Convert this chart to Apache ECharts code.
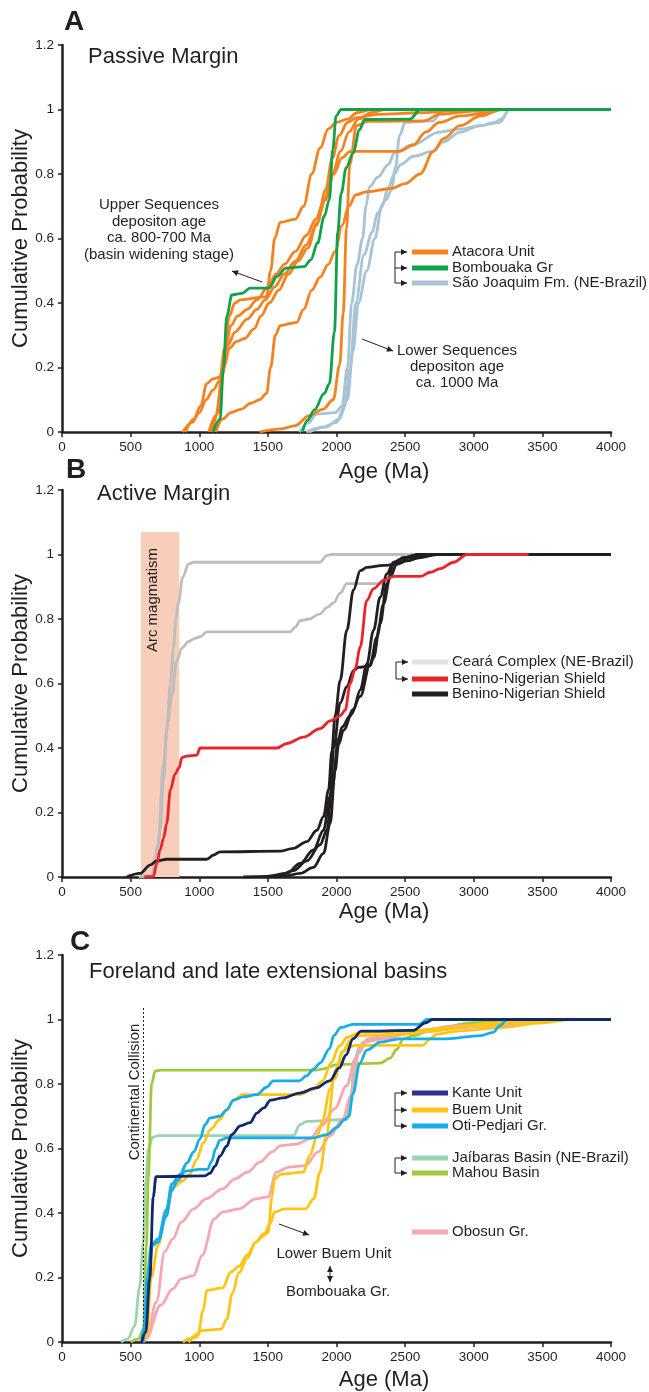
<!DOCTYPE html>
<html>
<head>
<meta charset="utf-8">
<script src="https://cdn.jsdelivr.net/npm/echarts@6/dist/echarts.min.js"></script>
<style>
  html, body { margin: 0; padding: 0; background: #fff; }
  #main { width: 649px; height: 1392px; }
</style>
</head>
<body>
<div id="main"></div>
<script>
// ---- data: [age (Ma), cumulative probability] ----
// A - Passive Margin
var atacora1 = [[880,0],[950,0.03],[1010,0.08],[1055,0.15],[1100,0.165],[1150,0.17],[1185,0.26],[1220,0.36],[1260,0.4],[1300,0.41],[1490,0.42],[1520,0.5],[1550,0.6],[1590,0.65],[1700,0.66],[1760,0.7],[1820,0.8],[1880,0.88],[1940,0.94],[2000,0.96],[2080,0.97],[2150,0.99],[2250,1],[4000,1]];
var atacora2 = [[900,0],[960,0.04],[1000,0.06],[1050,0.1],[1100,0.13],[1150,0.16],[1190,0.25],[1230,0.33],[1280,0.36],[1350,0.38],[1420,0.41],[1500,0.45],[1560,0.49],[1620,0.52],[1700,0.56],[1780,0.61],[1850,0.66],[1910,0.72],[1970,0.8],[2030,0.87],[2090,0.93],[2160,0.97],[2250,0.99],[2350,1],[4000,1]];
var atacora3 = [[1070,0],[1120,0.05],[1170,0.18],[1210,0.27],[1260,0.31],[1350,0.35],[1420,0.38],[1480,0.41],[1550,0.45],[1620,0.49],[1700,0.53],[1780,0.58],[1850,0.64],[1920,0.72],[1980,0.8],[2040,0.85],[2100,0.87],[2460,0.87],[2560,0.89],[2650,0.93],[2750,0.96],[2900,0.98],[3100,0.99],[3200,1],[4000,1]];
var atacora4 = [[1090,0],[1140,0.06],[1180,0.2],[1220,0.26],[1270,0.28],[1330,0.29],[1400,0.32],[1450,0.36],[1510,0.4],[1580,0.44],[1650,0.49],[1720,0.53],[1790,0.57],[1860,0.65],[1920,0.75],[1970,0.85],[2020,0.92],[2080,0.96],[2150,0.975],[2300,0.985],[2600,0.99],[3000,1],[4000,1]];
var atacora5 = [[1120,0],[1170,0.04],[1230,0.06],[1300,0.07],[1380,0.09],[1440,0.1],[1490,0.12],[1520,0.2],[1555,0.3],[1590,0.33],[1710,0.34],[1760,0.38],[1820,0.44],[1880,0.48],[1940,0.52],[1990,0.56],[2040,0.64],[2090,0.7],[2140,0.735],[2220,0.745],[2400,0.755],[2500,0.77],[2610,0.8],[2706,0.87],[2780,0.91],[2900,0.95],[3050,0.98],[3200,1],[4000,1]];
var atacora6 = [[1440,0],[1600,0.01],[1700,0.02],[1800,0.05],[1900,0.07],[1976,0.1],[2024,0.21],[2049,0.37],[2073,0.63],[2097,0.83],[2146,0.95],[2230,0.963],[2640,0.965],[2750,0.985],[3000,0.995],[3200,1],[4000,1]];
var bombouaka1 = [[1100,0],[1152,0.04],[1176,0.2],[1201,0.36],[1238,0.425],[1311,0.43],[1372,0.446],[1507,0.446],[1568,0.483],[1630,0.508],[1764,0.513],[1813,0.534],[1862,0.586],[1911,0.669],[1948,0.72],[1973,0.876],[1997,0.98],[2034,1],[4000,1]];
var bombouaka2 = [[1752,0],[1789,0.037],[1838,0.068],[1911,0.12],[1948,0.15],[1985,0.31],[2009,0.62],[2034,0.74],[2071,0.82],[2120,0.865],[2169,0.938],[2205,0.969],[2535,0.97],[2610,1],[4000,1]];
var saoJoaquim1 = [[1730,0],[1800,0.03],[1850,0.055],[1990,0.06],[2040,0.08],[2080,0.2],[2110,0.4],[2150,0.52],[2190,0.6],[2215,0.7],[2240,0.76],[2300,0.79],[2380,0.83],[2420,0.865],[2550,0.89],[2750,0.93],[2900,0.94],[3050,0.95],[3190,0.96],[3260,1],[4000,1]];
var saoJoaquim2 = [[1780,0],[1900,0.015],[2000,0.03],[2060,0.08],[2100,0.2],[2140,0.4],[2200,0.55],[2260,0.62],[2300,0.68],[2360,0.72],[2400,0.75],[2430,0.82],[2460,0.92],[2500,0.96],[2700,0.965],[2780,1],[4000,1]];
var saoJoaquim3 = [[1800,0],[1920,0.015],[2020,0.04],[2080,0.1],[2120,0.25],[2160,0.4],[2220,0.5],[2280,0.6],[2330,0.7],[2380,0.76],[2420,0.8],[2470,0.83],[2560,0.855],[2700,0.87],[2780,0.9],[2900,0.93],[3050,0.95],[3150,0.96],[3200,0.97],[3260,1],[4000,1]];

// B - Active Margin
var arcRange = [575, 855];
var ceara1 = [[560,0],[654,0.005],[690,0.05],[715,0.145],[740,0.3],[763,0.455],[790,0.6],[812,0.71],[830,0.8],[848,0.85],[880,0.93],[921,0.97],[958,0.976],[1880,0.976],[1930,0.997],[1960,1],[4000,1]];
var ceara2 = [[560,0],[654,0.005],[700,0.1],[739,0.35],[770,0.48],[800,0.56],[836,0.67],[873,0.71],[921,0.73],[970,0.74],[1006,0.745],[1055,0.76],[1662,0.76],[1700,0.775],[1735,0.795],[1800,0.8],[1880,0.816],[1930,0.835],[1978,0.85],[2027,0.88],[2075,0.91],[2330,0.91],[2400,0.95],[2450,0.98],[2500,1],[4000,1]];
var beninoRed = [[600,0],[666,0.002],[690,0.04],[715,0.084],[740,0.12],[763,0.166],[790,0.27],[824,0.32],[855,0.34],[873,0.37],[909,0.375],[982,0.378],[1006,0.4],[1565,0.4],[1638,0.414],[1760,0.434],[1880,0.46],[1954,0.484],[2027,0.5],[2063,0.517],[2100,0.6],[2136,0.646],[2173,0.713],[2221,0.858],[2270,0.894],[2343,0.92],[2416,0.932],[2610,0.932],[2683,0.945],[2756,0.956],[2853,0.976],[2950,1],[3400,1]];
var benino1 = [[471,0],[568,0.011],[642,0.037],[690,0.05],[763,0.055],[1055,0.055],[1103,0.068],[1152,0.078],[1589,0.08],[1686,0.089],[1784,0.11],[1857,0.145],[1905,0.187],[1942,0.27],[1966,0.39],[1990,0.5],[2027,0.61],[2075,0.765],[2124,0.89],[2173,0.95],[2221,0.96],[2343,0.966],[2440,0.97],[2513,0.98],[2600,0.99],[2731,1],[4000,1]];
var benino2 = [[1320,0],[1492,0.002],[1638,0.011],[1735,0.042],[1832,0.084],[1905,0.145],[1954,0.25],[1980,0.4],[2027,0.54],[2075,0.59],[2124,0.64],[2160,0.65],[2245,0.655],[2270,0.68],[2318,0.785],[2367,0.91],[2416,0.97],[2489,0.99],[2600,1],[4000,1]];
var benino3 = [[1500,0],[1565,0.002],[1686,0.02],[1784,0.05],[1880,0.1],[1930,0.145],[1966,0.27],[2015,0.43],[2040,0.465],[2100,0.5],[2173,0.56],[2245,0.66],[2294,0.744],[2343,0.847],[2391,0.93],[2440,0.97],[2530,0.99],[2650,1],[4000,1]];
var benino4 = [[1550,0],[1614,0.002],[1735,0.011],[1832,0.03],[1905,0.073],[1954,0.166],[1990,0.33],[2015,0.41],[2051,0.455],[2124,0.52],[2173,0.58],[2221,0.66],[2270,0.765],[2318,0.868],[2367,0.94],[2416,0.976],[2490,0.99],[2600,1],[4000,1]];

// C - Foreland and late extensional basins
var collisionAge = 590;
var jaibaras = [[430,0],[480,0.01],[530,0.05],[565,0.17],[593,0.31],[610,0.5],[630,0.6],[660,0.635],[700,0.64],[1686,0.64],[1734,0.674],[1783,0.684],[2074,0.69],[2100,0.75],[2135,0.88],[2170,0.92],[2250,0.94],[2400,0.95],[2600,0.96],[3000,0.98],[3300,1],[4000,1]];
var mahou = [[500,0],[560,0.01],[593,0.04],[615,0.3],[629,0.51],[653,0.8],[678,0.84],[720,0.843],[1850,0.843],[1904,0.847],[2000,0.86],[2320,0.865],[2390,0.88],[2438,0.907],[2487,0.94],[2560,0.95],[2700,0.97],[3000,0.99],[3300,1],[4000,1]];
var obosun1 = [[590,0],[612,0.01],[688,0.124],[748,0.28],[808,0.32],[869,0.372],[959,0.413],[1050,0.444],[1170,0.475],[1261,0.506],[1351,0.527],[1442,0.558],[1532,0.59],[1593,0.609],[1713,0.614],[1804,0.63],[1894,0.671],[1985,0.723],[2075,0.795],[2136,0.878],[2196,0.93],[2347,0.94],[2558,0.96],[2860,0.98],[3161,0.985],[3644,1],[4000,1]];
var obosun2 = [[590,0],[612,0.01],[718,0.114],[808,0.165],[869,0.196],[959,0.206],[1020,0.268],[1110,0.382],[1170,0.403],[1291,0.413],[1412,0.444],[1502,0.45],[1562,0.527],[1653,0.542],[1774,0.547],[1864,0.589],[1955,0.64],[2045,0.692],[2106,0.764],[2166,0.898],[2226,0.94],[2408,0.955],[2709,0.97],[3161,0.98],[3614,1],[4000,1]];
var buem1 = [[590,0],[617,0.02],[650,0.2],[700,0.3],[760,0.4],[810,0.48],[880,0.5],[930,0.52],[980,0.565],[1030,0.617],[1080,0.658],[1150,0.69],[1200,0.72],[1250,0.75],[1320,0.767],[1730,0.767],[1830,0.783],[1900,0.81],[1960,0.865],[2020,0.917],[2080,0.945],[2170,0.96],[2600,0.965],[2800,0.975],[3200,0.99],[3600,1],[4000,1]];
var buem2 = [[880,0],[930,0.01],[990,0.025],[1030,0.1],[1055,0.16],[1170,0.168],[1231,0.217],[1291,0.235],[1350,0.27],[1412,0.31],[1470,0.33],[1502,0.34],[1530,0.45],[1548,0.506],[1593,0.52],[1759,0.527],[1804,0.578],[1860,0.64],[1894,0.68],[1955,0.785],[2000,0.85],[2045,0.9],[2100,0.935],[2150,0.95],[2500,0.955],[2700,0.965],[3000,0.98],[3400,0.995],[3600,1],[4000,1]];
var buem3 = [[920,0],[980,0.015],[1010,0.035],[1160,0.04],[1200,0.07],[1240,0.15],[1290,0.215],[1350,0.26],[1412,0.31],[1472,0.336],[1520,0.37],[1548,0.403],[1623,0.413],[1774,0.413],[1834,0.444],[1880,0.527],[1925,0.64],[1985,0.816],[2045,0.9],[2100,0.915],[2136,0.92],[2630,0.92],[2680,0.94],[2730,0.955],[2900,0.965],[3200,0.975],[3500,0.99],[3700,1],[4000,1]];
var otiPedjari1 = [[580,0],[600,0.05],[620,0.2],[650,0.3],[700,0.32],[760,0.41],[800,0.49],[860,0.52],[910,0.555],[960,0.59],[1006,0.63],[1042,0.674],[1080,0.695],[1150,0.7],[1200,0.72],[1250,0.75],[1320,0.76],[1420,0.767],[1490,0.79],[1540,0.81],[1730,0.81],[1780,0.825],[1830,0.845],[1880,0.865],[1950,0.91],[1980,0.95],[2030,0.975],[2120,0.985],[2600,0.985],[2660,1],[4000,1]];
var otiPedjari2 = [[590,0],[610,0.05],[630,0.2],[660,0.3],[700,0.31],[760,0.39],[800,0.47],[840,0.5],[900,0.53],[1000,0.535],[1060,0.535],[1090,0.56],[1120,0.6],[1150,0.625],[1200,0.633],[1830,0.633],[1930,0.643],[2000,0.665],[2060,0.69],[2090,0.7],[2120,0.77],[2170,0.865],[2220,0.905],[2320,0.93],[2460,0.94],[2800,0.94],[3050,0.95],[3140,0.96],[3190,0.98],[3240,1],[4000,1]];
var kante = [[580,0],[610,0.03],[640,0.2],[665,0.45],[685,0.513],[1040,0.515],[1080,0.524],[1115,0.545],[1150,0.576],[1200,0.607],[1236,0.643],[1300,0.67],[1370,0.68],[1420,0.71],[1470,0.726],[1520,0.75],[1610,0.757],[1730,0.772],[1850,0.788],[1950,0.81],[2020,0.85],[2070,0.89],[2120,0.94],[2180,0.964],[2560,0.966],[2650,0.99],[2700,1],[4000,1]];

var xTicks = { min: 0, max: 4000, interval: 500 };
var yTicks = { min: 0, max: 1.2, interval: 0.2 };

// ---- styling ----
var INK = '#231f20';
var FONT = '"Liberation Sans", Arial, Helvetica, sans-serif';
var cAtacora = '#f5821f', cBomb = '#0ea24a', cSao = '#a7c3d6';
var cCeara = '#bdbdbd', cCearaKey = '#e2e2e2', cRed = '#e8252b', cBlack = '#231f20';
var cKante = '#0f2a68', cKanteKey = '#2e3192', cBuem = '#ffc516', cOti = '#17ade8';
var cJai = '#9cd4af', cMahou = '#9fca3d', cObosun = '#f5a8b0';

var gridTops = [45, 490, 955];

function line(name, data, color, panel, z) {
  return {
    name: name, type: 'line', data: data, xAxisIndex: panel, yAxisIndex: panel,
    showSymbol: false, symbol: 'none', smooth: 0.35, smoothMonotone: 'x',
    lineStyle: { color: color, width: 2.8 }, z: z || 3, silent: true
  };
}

var series = [
  line('São Joaquim Fm. (NE-Brazil)', saoJoaquim1, cSao, 0),
  line('São Joaquim Fm. (NE-Brazil)', saoJoaquim2, cSao, 0),
  line('São Joaquim Fm. (NE-Brazil)', saoJoaquim3, cSao, 0),
  line('Atacora Unit', atacora1, cAtacora, 0, 4),
  line('Atacora Unit', atacora2, cAtacora, 0, 4),
  line('Atacora Unit', atacora3, cAtacora, 0, 4),
  line('Atacora Unit', atacora4, cAtacora, 0, 4),
  line('Atacora Unit', atacora5, cAtacora, 0, 4),
  line('Atacora Unit', atacora6, cAtacora, 0, 4),
  line('Bombouaka Gr', bombouaka1, cBomb, 0, 5),
  line('Bombouaka Gr', bombouaka2, cBomb, 0, 5),
  {
    type: 'line', data: [], xAxisIndex: 1, yAxisIndex: 1, z: 1, silent: true,
    markArea: {
      silent: true, label: { show: false },
      itemStyle: { color: '#f8cdb9' },
      data: [[{ coord: [arcRange[0], 0] }, { coord: [arcRange[1], 1.07] }]]
    }
  },
  line('Ceará Complex (NE-Brazil)', ceara1, cCeara, 1),
  line('Ceará Complex (NE-Brazil)', ceara2, cCeara, 1),
  line('Benino-Nigerian Shield', benino1, cBlack, 1, 4),
  line('Benino-Nigerian Shield', benino2, cBlack, 1, 4),
  line('Benino-Nigerian Shield', benino3, cBlack, 1, 4),
  line('Benino-Nigerian Shield', benino4, cBlack, 1, 4),
  line('Benino-Nigerian Shield (red)', beninoRed, cRed, 1, 5),
  {
    type: 'line', data: [], xAxisIndex: 2, yAxisIndex: 2, z: 2, silent: true,
    markLine: {
      silent: true, symbol: ['none', 'none'], label: { show: false },
      lineStyle: { color: INK, width: 1, type: [2, 2] },
      data: [[{ coord: [collisionAge, 0] }, { coord: [collisionAge, 1.04] }]]
    }
  },
  line('Jaíbaras Basin (NE-Brazil)', jaibaras, cJai, 2),
  line('Mahou Basin', mahou, cMahou, 2),
  line('Obosun Gr.', obosun1, cObosun, 2, 4),
  line('Obosun Gr.', obosun2, cObosun, 2, 4),
  line('Buem Unit', buem1, cBuem, 2, 5),
  line('Buem Unit', buem2, cBuem, 2, 5),
  line('Buem Unit', buem3, cBuem, 2, 5),
  line('Oti-Pedjari Gr.', otiPedjari1, cOti, 2, 6),
  line('Oti-Pedjari Gr.', otiPedjari2, cOti, 2, 6),
  line('Kante Unit', kante, cKante, 2, 7)
];

// ---- axes ----
var grids = [], xAxes = [], yAxes = [];
gridTops.forEach(function (top, i) {
  grids.push({ left: 62, top: top, width: 549, height: 387, containLabel: false, outerBoundsMode: 'none' });
  xAxes.push({
    type: 'value', gridIndex: i, min: xTicks.min, max: xTicks.max, interval: xTicks.interval,
    axisLine: { show: true, onZero: false, lineStyle: { color: INK, width: 2.5 } },
    axisTick: { show: true, length: 5, lineStyle: { color: INK, width: 1.5 } },
    axisLabel: { fontSize: 13.5, color: INK, fontFamily: FONT, margin: 8, formatter: function (v) { return String(v); } },
    splitLine: { show: false }
  });
  yAxes.push({
    type: 'value', gridIndex: i, min: yTicks.min, max: yTicks.max, interval: yTicks.interval,
    name: 'Cumulative Probability', nameLocation: 'middle', nameGap: 30, nameMoveOverlap: false,
    nameTextStyle: { fontSize: 22, color: INK, fontFamily: FONT },
    axisLine: { show: true, lineStyle: { color: INK, width: 2.5 } },
    axisTick: { show: true, length: 4, lineStyle: { color: INK, width: 1.5 } },
    axisLabel: { fontSize: 13.5, color: INK, fontFamily: FONT, margin: 8 },
    splitLine: { show: false }
  });
});

// ---- annotation helpers (pixels) ----
function text(x, y, s, size, o) {
  o = o || {};
  return {
    type: 'text', x: x, y: y, rotation: o.rot || 0, z: 10,
    style: {
      text: s, fontSize: size, fontFamily: FONT, fontWeight: o.bold ? 'bold' : 'normal',
      fill: INK, align: o.align || 'left', verticalAlign: 'middle',
      textAlign: o.align || 'left', textVerticalAlign: 'middle',
      lineHeight: o.lh || Math.round(size * 1.15)
    }
  };
}
function seg(x1, y1, x2, y2, color, w) {
  return { type: 'line', z: 10, shape: { x1: x1, y1: y1, x2: x2, y2: y2 }, style: { stroke: color || INK, lineWidth: w || 1 } };
}
function head(x1, y1, x2, y2) {
  var a = Math.atan2(y2 - y1, x2 - x1), L = 6, W = 3;
  var bx = x2 - L * Math.cos(a), by = y2 - L * Math.sin(a);
  return {
    type: 'polygon', z: 10,
    shape: { points: [[x2, y2], [bx - W * Math.sin(a), by + W * Math.cos(a)], [bx + W * Math.sin(a), by - W * Math.cos(a)]] },
    style: { fill: INK }
  };
}
function arrow(x1, y1, x2, y2) { return [seg(x1, y1, x2, y2), head(x1, y1, x2, y2)]; }
function key(y, color, label) {
  return [seg(412, y, 448, y, color, 5), text(452, y, label, 15)];
}
function bracket(x, ys) {
  var out = [seg(x, ys[0], x, ys[ys.length - 1])];
  ys.forEach(function (y) { out = out.concat(arrow(x, y, x + 12, y)); });
  return out;
}

var g = [];
// panel letters and titles
g.push(text(64, 22, 'A', 28, { bold: true }));
g.push(text(66, 470, 'B', 28, { bold: true }));
g.push(text(70, 942, 'C', 28, { bold: true }));
g.push(text(88, 57, 'Passive Margin', 22));
g.push(text(97, 494, 'Active Margin', 22));
g.push(text(89, 972, 'Foreland and late extensional basins', 22));
[472, 912, 1380].forEach(function (y) { g.push(text(384, y, 'Age (Ma)', 22, { align: 'center' })); });

// A annotations + key
g.push(text(159, 230, 'Upper Sequences\ndepositon age\nca. 800-700 Ma\n(basin widening stage)', 15, { align: 'center', lh: 16.7 }));
g = g.concat(arrow(262, 282, 232, 271));
g.push(text(457, 367, 'Lower Sequences\ndepositon age\nca. 1000 Ma', 15, { align: 'center', lh: 16 }));
g = g.concat(arrow(362, 339, 393, 351));
g = g.concat(bracket(395, [252, 268, 283]));
g = g.concat(key(252, cAtacora, 'Atacora Unit'));
g = g.concat(key(268, cBomb, 'Bombouaka Gr'));
g = g.concat(key(283, cSao, 'São Joaquim Fm. (NE-Brazil)'));

// B annotations + key
g.push(text(153, 600, 'Arc magmatism', 15, { align: 'center', rot: Math.PI / 2 }));
g = g.concat(bracket(396, [662, 679]));
g = g.concat(key(662, cCearaKey, 'Ceará Complex (NE-Brazil)'));
g = g.concat(key(679, cRed, 'Benino-Nigerian Shield'));
g = g.concat(key(694, cBlack, 'Benino-Nigerian Shield'));

// C annotations + key
g.push(text(135, 1092, 'Continental Collision', 15, { align: 'center', rot: Math.PI / 2 }));
g.push(text(334, 1254, 'Lower Buem Unit', 15, { align: 'center' }));
g.push(text(338, 1292, 'Bombouaka Gr.', 15, { align: 'center' }));
g = g.concat(arrow(330, 1274, 330, 1266));
g = g.concat(arrow(330, 1274, 330, 1282));
g = g.concat(arrow(279, 1224, 309, 1235));
g = g.concat(bracket(395, [1093, 1110, 1126]));
g = g.concat(bracket(395, [1158, 1173]));
g = g.concat(key(1093, cKanteKey, 'Kante Unit'));
g = g.concat(key(1110, cBuem, 'Buem Unit'));
g = g.concat(key(1126, cOti, 'Oti-Pedjari Gr.'));
g = g.concat(key(1158, cJai, 'Jaíbaras Basin (NE-Brazil)'));
g = g.concat(key(1173, cMahou, 'Mahou Basin'));
g = g.concat(key(1232, cObosun, 'Obosun Gr.'));

var chart = echarts.init(document.getElementById('main'), null, { renderer: 'canvas' });
chart.setOption({
  animation: false,
  backgroundColor: '#fff',
  textStyle: { fontFamily: FONT },
  grid: grids,
  xAxis: xAxes,
  yAxis: yAxes,
  series: series,
  graphic: g
});
</script>
</body>
</html>
